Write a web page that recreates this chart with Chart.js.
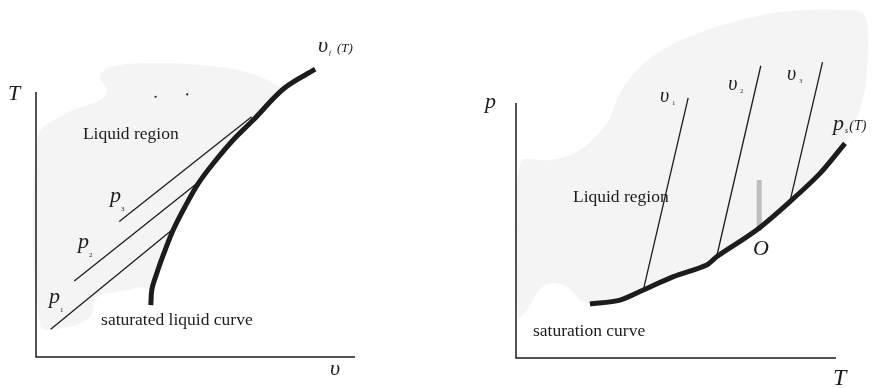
<!DOCTYPE html>
<html>
<head>
<meta charset="utf-8">
<script src="https://cdn.jsdelivr.net/npm/chart.js@4.4.1/dist/chart.umd.min.js"></script>
<style>
  html, body { margin: 0; padding: 0; background: #ffffff; }
  #wrap { position: relative; width: 884px; height: 388px; overflow: hidden; }
  .panel { position: absolute; top: 0; width: 442px; height: 388px; }
</style>
</head>
<body>
<div id="wrap">
  <div class="panel" style="left:0"><canvas id="tvChart" width="442" height="388"></canvas></div>
  <div class="panel" style="left:442px"><canvas id="ptChart" width="442" height="388"></canvas></div>
</div>
<script>
// ---------- T–v diagram (specific volume v on x, temperature T on y; axes run 0..10) ----------
const tvAxes = [[0, 10], [0, 0], [10, 0]];
// saturated liquid curve v_f(T), from its low-temperature end upward
const vfCurve = [
  [3.60, 1.96], [3.63, 2.53], [3.75, 3.03], [3.99, 3.85], [4.30, 4.79], [4.67, 5.67],
  [5.09, 6.55], [5.56, 7.31], [6.18, 8.19], [6.81, 8.94], [7.78, 10.14], [8.75, 10.86]
];
// isobars p1 < p2 < p3, ending on the saturated liquid curve
const isobarP1 = [[0.46, 1.05], [4.30, 4.83]];
const isobarP2 = [[1.20, 2.87], [5.04, 6.55]];
const isobarP3 = [[2.61, 5.11], [6.76, 9.07]];
// outline of the liquid region away from the saturation curve
const tvShadeEdge = [
  [3.26, 2.64], [2.85, 2.53], [2.32, 2.42], [1.91, 2.26], [1.69, 1.51], [0.97, 1.13],
  [0.13, 1.21], [0.06, 8.30], [0.97, 9.21], [2.01, 9.70], [2.23, 10.08], [2.01, 10.57],
  [2.32, 10.94], [3.57, 11.09], [5.14, 11.02], [6.71, 10.72], [7.74, 10.15]
];
const tvDots = [[3.75, 9.82], [4.74, 9.91]];

// ---------- p–T diagram (temperature T on x, pressure p on y; axes run 0..10) ----------
const ptAxes = [[0, 10], [0, 0], [10, 0]];
// saturation curve p_s(T)
const psCurve = [
  [2.31, 2.12], [3.25, 2.27], [3.98, 2.67], [4.92, 3.19], [5.96, 3.65], [6.27, 3.97],
  [7.52, 5.02], [8.56, 6.13], [9.50, 7.24], [10.28, 8.42]
];
// isochores v1 < v2 < v3 rising from the saturation curve
const isochoreV1 = [[3.98, 2.67], [5.38, 10.20]];
const isochoreV2 = [[6.27, 3.97], [7.65, 11.46]];
const isochoreV3 = [[8.56, 6.13], [9.58, 11.60]];
// short marker standing on the curve above state O
const markerO = [[7.60, 4.98], [7.60, 6.98]];
const ptShadeEdge = [
  [2.00, 2.27], [1.59, 2.78], [1.06, 2.94], [0.66, 2.55], [0.34, 1.88], [0.06, 1.61],
  [0.13, 7.65], [1.06, 7.76], [2.00, 8.16], [2.84, 9.22], [3.25, 10.39], [3.88, 11.41],
  [4.72, 12.20], [5.97, 12.86], [7.00, 13.25], [8.03, 13.53], [9.09, 13.65], [10.13, 13.65],
  [10.84, 13.53], [11.00, 12.75], [10.97, 11.41], [10.84, 10.12], [10.44, 8.75]
];

// ---------- styling / layout ----------
const INK = '#1c1c1c';
const SHADE = '#f4f4f4';
const SERIF = '"Liberation Serif", "DejaVu Serif", serif';
const it = (px) => `italic ${px}px ${SERIF}`;
const rm = (px) => `${px}px ${SERIF}`;
const CANVAS_W = 442, CANVAS_H = 388;
// where each panel's axis frame (0..10 on both axes) sits on its canvas
const TV_FRAME = { left: 36, right: 355, top: 92, bottom: 357 };
const PT_FRAME = { left: 74, right: 394, top: 103, bottom: 358 };

const pts = (arr) => arr.map(([x, y]) => ({ x, y }));

function curve(data, width, extra) {
  return Object.assign({
    data: pts(data), showLine: true, borderColor: INK, borderWidth: width,
    pointRadius: 0, pointHoverRadius: 0, fill: false, tension: 0,
    borderCapStyle: 'butt', borderJoinStyle: 'round', capBezierPoints: false
  }, extra || {});
}

function shade(data) {
  return {
    data: pts(data), showLine: true, borderWidth: 0, borderColor: 'rgba(0,0,0,0)',
    backgroundColor: SHADE, fill: 'shape', pointRadius: 0, pointHoverRadius: 0,
    tension: 0.35, capBezierPoints: false
  };
}

// text labels placed in data coordinates (left end of the baseline)
const diagramText = {
  id: 'diagramText',
  afterDatasetsDraw(chart, args, opts) {
    const { ctx } = chart;
    const xs = chart.scales.x, ys = chart.scales.y;
    ctx.save();
    ctx.fillStyle = INK;
    ctx.textAlign = 'left';
    ctx.textBaseline = 'alphabetic';
    for (const lab of opts.items || []) {
      let px = xs.getPixelForValue(lab.at[0]);
      const py = ys.getPixelForValue(lab.at[1]);
      for (const [txt, font, dx, dy] of lab.parts) {
        ctx.font = font;
        px += dx || 0;
        ctx.fillText(txt, px, py + (dy || 0));
        px += ctx.measureText(txt).width;
      }
    }
    ctx.restore();
  }
};

// value range of a hidden scale so that 0..10 lands on the frame edges
function rangeFor(lo, hi, size) {
  const per = (hi - lo) / 10;
  return { min: -lo / per, max: (size - lo) / per };
}

function makeChart(id, frame, datasets, labels) {
  const xr = rangeFor(frame.left, frame.right, CANVAS_W);
  const yr = rangeFor(CANVAS_H - frame.bottom, CANVAS_H - frame.top, CANVAS_H);
  // first entry is drawn first (lowest layer)
  datasets.forEach((d, i) => { d.order = datasets.length - i; });
  return new Chart(document.getElementById(id), {
    type: 'scatter',
    data: { datasets },
    options: {
      responsive: false, animation: false, events: [],
      layout: { padding: 0, autoPadding: false },
      scales: {
        x: { type: 'linear', display: false, min: xr.min, max: xr.max },
        y: { type: 'linear', display: false, min: yr.min, max: yr.max }
      },
      plugins: {
        legend: { display: false }, tooltip: { enabled: false },
        diagramText: { items: labels }
      }
    },
    plugins: [diagramText]
  });
}

// T–v panel
makeChart('tvChart', TV_FRAME, [
  shade(tvShadeEdge.concat(vfCurve.slice(1, 11).reverse())),
  curve(tvAxes, 1.5, { borderJoinStyle: 'miter' }),
  curve(isobarP1, 1.3),
  curve(isobarP2, 1.3),
  curve(isobarP3, 1.3),
  curve(vfCurve, 5, { tension: 0.35 }),
  { data: pts(tvDots), pointRadius: 1.1, pointBackgroundColor: INK, pointBorderWidth: 0 }
], [
  { at: [-0.88, 9.70], parts: [['T', it(22)]] },
  { at: [9.22, -0.68], parts: [['υ', it(22)]] },
  { at: [8.84, 11.51], parts: [['υ', it(22)], ['f', it(7), 1, 3], ['(T)', it(13), 6, 0]] },
  { at: [2.32, 5.85], parts: [['p', it(22)], ['3', rm(7), 0, 9]] },
  { at: [1.32, 4.11], parts: [['p', it(22)], ['2', rm(7), 0, 9]] },
  { at: [0.41, 2.04], parts: [['p', it(22)], ['1', rm(7), 0, 9]] },
  { at: [1.47, 8.23], parts: [['Liquid region', rm(17.5)]] },
  { at: [2.04, 1.21], parts: [['saturated liquid curve', rm(17.5)]] }
]);

// p–T panel
makeChart('ptChart', PT_FRAME, [
  shade(ptShadeEdge.concat(psCurve.slice().reverse())),
  curve(ptAxes, 1.5, { borderJoinStyle: 'miter' }),
  curve(isochoreV1, 1.3),
  curve(isochoreV2, 1.3),
  curve(isochoreV3, 1.3),
  curve(markerO, 5, { borderColor: '#bdbdbd' }),
  curve(psCurve, 5, { tension: 0.3 })
], [
  { at: [-0.97, 9.80], parts: [['p', it(22)]] },
  { at: [9.91, -1.06], parts: [['T', it(24)]] },
  { at: [9.91, 8.94], parts: [['p', it(22)], ['s', it(8), 1, 3], ['(T)', it(14), 1, 0]] },
  { at: [4.50, 10.04], parts: [['υ', it(20)], ['1', rm(6), 3, 3]] },
  { at: [6.63, 10.51], parts: [['υ', it(20)], ['2', rm(6), 3, 3]] },
  { at: [8.47, 10.90], parts: [['υ', it(20)], ['3', rm(6), 3, 3]] },
  { at: [7.41, 4.04], parts: [['O', it(22)]] },
  { at: [1.78, 6.12], parts: [['Liquid region', rm(17.5)]] },
  { at: [0.53, 0.86], parts: [['saturation curve', rm(17.5)]] }
]);
</script>
</body>
</html>
